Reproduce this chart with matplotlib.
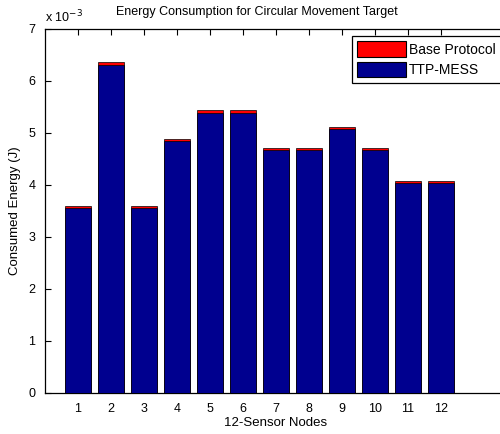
import numpy as np
import matplotlib
matplotlib.use("Agg")
import matplotlib.pyplot as plt
from matplotlib.ticker import FuncFormatter

plt.rcParams['font.family'] = ['Liberation Sans', 'DejaVu Sans']

# energy per node, in units of 1e-3 J
nodes = [1, 2, 3, 4, 5, 6, 7, 8, 9, 10, 11, 12]
base_protocol = [3.59, 6.37, 3.59, 4.89, 5.44, 5.44, 4.72, 4.72, 5.12, 4.72, 4.08, 4.08]
ttp_mess = [3.56, 6.30, 3.56, 4.84, 5.39, 5.39, 4.67, 4.67, 5.07, 4.67, 4.03, 4.03]
scale = 1e-3

x = np.array(nodes)
base_j = np.array(base_protocol) * scale
ttp_j = np.array(ttp_mess) * scale

fig = plt.figure(figsize=(5.0, 4.34), dpi=100)
ax = fig.add_axes([0.09, 0.0945, 0.924, 0.8387])

ax.bar(x, base_j, width=0.8, color=(1, 0, 0), edgecolor='black', linewidth=0.5,
       label='Base Protocol', zorder=2)
ax.bar(x, ttp_j, width=0.8, color=(0, 0, 0.56), edgecolor='black', linewidth=0.5,
       label='TTP-MESS', zorder=3)

ax.set_xlim(0, 14)
ax.set_ylim(0, 7 * scale)
ax.set_xticks(x)
ax.set_yticks(np.arange(0, 8) * scale)
ax.yaxis.set_major_formatter(FuncFormatter(lambda v, p: f"{v / scale:g}"))
ax.tick_params(direction='in', length=4, width=0.8, labelsize=9, top=True,
               right=True, colors='black', pad=7)
for s in ax.spines.values():
    s.set_linewidth(0.9)

ax.text(0.0, 1.01, r"x 10$^{-3}$", transform=ax.transAxes, fontsize=9,
        ha='left', va='bottom')

ax.set_title("Energy Consumption for Circular Movement Target", fontsize=9,
             x=0.459, pad=10)
ax.set_xlabel("12-Sensor Nodes", fontsize=9.5, labelpad=2)
ax.set_ylabel("Consumed Energy (J)", fontsize=9.5, labelpad=5)

leg = ax.legend(loc='upper left', bbox_to_anchor=(0.664, 0.981), fontsize=10,
                fancybox=False, framealpha=1, edgecolor='black',
                handlelength=3.5, handleheight=1.3, borderpad=0.4,
                labelspacing=0.4, handletextpad=0.2, borderaxespad=0)
leg.get_frame().set_linewidth(0.9)
for h in leg.legend_handles:
    h.set_linewidth(0.8)

fig.savefig("out.png", dpi=100)
